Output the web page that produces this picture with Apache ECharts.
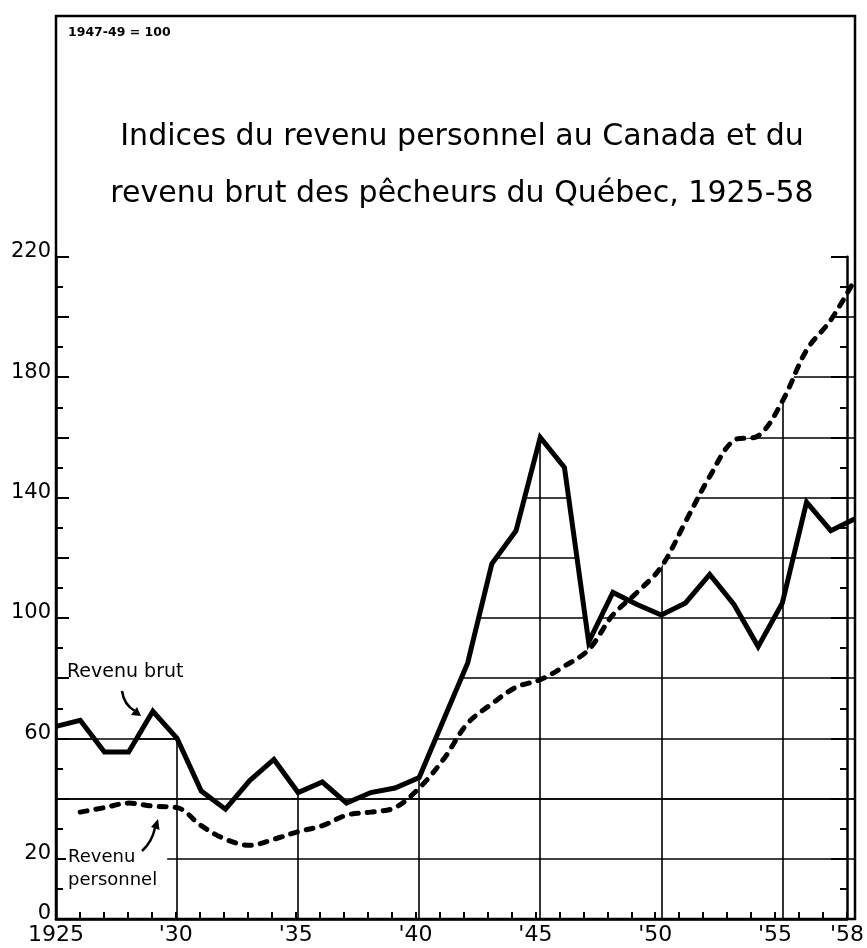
<!DOCTYPE html>
<html><head><meta charset="utf-8">
<script src="https://cdn.jsdelivr.net/npm/echarts@6/dist/echarts.min.js"></script>
<style>html,body{margin:0;padding:0;background:#fff}#c{width:867px;height:948px}</style>
</head><body><div id="c"></div>
<script>
// ---- data ----
const years = [1925,1926,1927,1928,1929,1930,1931,1932,1933,1934,1935,1936,1937,1938,1939,1940,1941,1942,1943,1944,1945,1946,1947,1948,1949,1950,1951,1952,1953,1954,1955,1956,1957,1958];
const revenuBrut = [64,66,55.5,55.5,69,60,42.5,36.5,46,53,42,45.5,38.5,42,43.5,47,66,85,118,129,160,150,92,108.5,104.5,101,105,114.5,104.5,90.5,105,138.5,129,133];
const revenuPersonnel = [null,35.5,37,38.5,37.5,37,31,26.5,24.5,26.5,29,31,34.5,35.5,37,43.5,53,65,71.5,77,79.5,84,89.5,101,108.5,117,132,147,159,160.5,172,189,199,212.5];
const yLabelValues = [0,20,60,100,140,180,220];
const xLabelYears = [1925,1930,1935,1940,1945,1950,1955,1958];
const gridYears = [1930,1935,1940,1945,1950,1955];
const titleLines = ['Indices du revenu personnel au Canada et du', 'revenu brut des pêcheurs du Québec, 1925-58'];
const baseNote = '1947-49 = 100';
const labelBrut = 'Revenu brut';
const labelPersonnel = 'Revenu\npersonnel';

// ---- chart ----
const FONT = 'DejaVu Sans';
const cats = years.map(String);
const envelope = years.map((y, i) => Math.max(revenuBrut[i], revenuPersonnel[i] == null ? -Infinity : revenuPersonnel[i]));
const chart = echarts.init(document.getElementById('c'), null, {renderer: 'canvas'});
const G = {left: 56, right: 12, bottom: 29};
const fullTop = 16;
const H = 948 - fullTop - G.bottom;
const tickTop = fullTop + (300 - 220) / 300 * H;

const option = {
  animation: false,
  backgroundColor: '#fff',
  title: {
    text: titleLines.join('\n'),
    left: 457, top: 104, textAlign: 'center', z: 10,
    textStyle: {fontFamily: FONT, fontSize: 30, fontWeight: 'normal', color: '#000', lineHeight: 57}
  },
  grid: [
    {left: G.left, right: G.right, top: fullTop, bottom: G.bottom, show: true, borderColor: '#000', borderWidth: 2.5, backgroundColor: 'transparent', z: 3},
    {left: G.left, right: G.right, top: tickTop, bottom: G.bottom}
  ],
  xAxis: [
    {type: 'category', gridIndex: 0, data: cats, boundaryGap: false, z: 0,
     axisLine: {show: false}, axisTick: {show: false}, axisLabel: {show: false},
     splitLine: {show: true, interval: (i, v) => gridYears.includes(+v), lineStyle: {color: '#000', width: 1.6}}},
    {type: 'category', gridIndex: 1, data: cats, boundaryGap: false, z: 3, position: 'bottom',
     axisLine: {show: true, lineStyle: {color: '#000', width: 2.5}},
     axisTick: {show: true, inside: true, interval: 0, length: 7, lineStyle: {color: '#000', width: 2}},
     axisLabel: {show: true, interval: (i, v) => xLabelYears.includes(+v), margin: 5,
       formatter: v => v === '1925' ? '1925' : "'" + v.slice(2),
       fontFamily: FONT, fontSize: 22, color: '#000'},
     splitLine: {show: false}}
  ],
  yAxis: [
    {type: 'value', gridIndex: 0, min: 0, max: 300, interval: 20, z: 0,
     axisLine: {show: false}, axisTick: {show: false}, axisLabel: {show: false},
     splitLine: {show: true, lineStyle: {color: '#000', width: 1.6}}},
    {type: 'value', gridIndex: 1, min: 0, max: 220, interval: 20, z: 3, position: 'left',
     axisLine: {show: true, lineStyle: {color: '#000', width: 2.5}},
     axisTick: {show: true, inside: true, length: 13, lineStyle: {color: '#000', width: 2}},
     minorTick: {show: true, splitNumber: 2, length: 7, lineStyle: {color: '#000', width: 2}},
     axisLabel: {show: true, margin: 5, formatter: v => yLabelValues.includes(v) ? String(v) : '',
       fontFamily: FONT, fontSize: 21, color: '#000', verticalAlign: 'bottom', lineHeight: 10},
     splitLine: {show: false}},
    {type: 'value', gridIndex: 1, min: 0, max: 220, interval: 20, z: 3, position: 'right',
     axisLine: {show: true, lineStyle: {color: '#000', width: 2.5}},
     axisTick: {show: true, inside: true, length: 16, lineStyle: {color: '#000', width: 2}},
     minorTick: {show: true, splitNumber: 2, length: 7, lineStyle: {color: '#000', width: 2}},
     axisLabel: {show: false}, splitLine: {show: false}}
  ],
  series: [
    {name: 'mask', type: 'line', xAxisIndex: 0, yAxisIndex: 0, data: envelope, z: 1, silent: true,
     symbol: 'none', lineStyle: {opacity: 0, width: 0},
     areaStyle: {color: '#fff', opacity: 1, origin: 'end'}},
    {name: 'Revenu personnel', type: 'line', xAxisIndex: 0, yAxisIndex: 0, data: revenuPersonnel, z: 4,
     symbol: 'none', smooth: 0.35, silent: true,
     lineStyle: {color: '#000', width: 5, type: [7, 9], cap: 'round'},
     markLine: {silent: true, symbol: 'none', label: {show: false},
       lineStyle: {color: '#000', width: 1.6, type: 'solid'},
       data: [
         [{coord: ['1925', 40]}, {coord: ['1958', 40]}],
         [{coord: ['1925', 60]}, {coord: ['1930', 60]}]
       ]}},
    {name: 'Revenu brut', type: 'line', xAxisIndex: 0, yAxisIndex: 0, data: revenuBrut, z: 5,
     symbol: 'none', silent: true,
     lineStyle: {color: '#000', width: 5, join: 'miter'}}
  ],
  graphic: [
    {type: 'text', x: 68, y: 26, z: 10, style: {text: baseNote, fontFamily: FONT, fontSize: 12.5, fontWeight: 'bold', fill: '#000'}},
    {type: 'text', x: 67, y: 663, z: 10, style: {text: labelBrut, fontFamily: FONT, fontSize: 19, fill: '#000'}},
    {type: 'text', x: 66, y: 845, z: 10, style: {text: labelPersonnel, fontFamily: FONT, fontSize: 18, lineHeight: 23, fill: '#000', backgroundColor: '#fff', padding: [1, 10, 1, 2]}},
    {type: 'bezierCurve', z: 10, shape: {x1: 122, y1: 691, cpx1: 124, cpy1: 705, x2: 135, y2: 711}, style: {stroke: '#000', lineWidth: 2.5, fill: null}},
    {type: 'polygon', z: 10, shape: {points: [[141, 716], [131, 715], [137, 707]]}, style: {fill: '#000'}},
    {type: 'bezierCurve', z: 10, shape: {x1: 142, y1: 851, cpx1: 152, cpy1: 842, x2: 155, y2: 828}, style: {stroke: '#000', lineWidth: 2.5, fill: null}},
    {type: 'polygon', z: 10, shape: {points: [[158, 819], [159.5, 830], [151, 827]]}, style: {fill: '#000'}}
  ]
};
chart.setOption(option);
</script></body></html>
